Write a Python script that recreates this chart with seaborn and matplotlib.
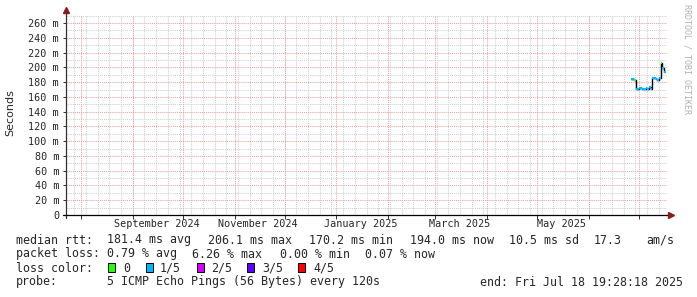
import matplotlib
matplotlib.use('Agg')
import numpy as np
import pandas as pd
import matplotlib.pyplot as plt
import matplotlib.dates as mdates
from matplotlib.patches import Rectangle
import seaborn as sns

# median rtt (ms) per day, with loss level index (0 = no loss, 1 = 1/5 ...)
dates = ['2025-06-27', '2025-06-28', '2025-06-29', '2025-06-30', '2025-07-01',
         '2025-07-02', '2025-07-03', '2025-07-04', '2025-07-05', '2025-07-06',
         '2025-07-07', '2025-07-08', '2025-07-09', '2025-07-10', '2025-07-11',
         '2025-07-12', '2025-07-13', '2025-07-14', '2025-07-15', '2025-07-16',
         '2025-07-17']
rtt_ms = [184.5, 184.0, 183.5, 171.0, 170.5,
          172.0, 171.5, 170.2, 171.0, 172.5,
          170.8, 173.5, 171.0, 186.0, 185.5,
          184.0, 183.0, 185.0, 206.1, 199.0,
          194.0]
loss_level = [1, 1, 0, 1, 1,
              1, 1, 1, 1, 1,
              1, 1, 1, 1, 1,
              1, 1, 1, 0, 1,
              1]

loss_labels = ['0', '1/5', '2/5', '3/5', '4/5']
loss_colors = ['#26ff00', '#00b8ff', '#d400ff', '#5e00ff', '#ff0000']

y_ticks = [0, 20, 40, 60, 80, 100, 120, 140, 160, 180, 200, 220, 240, 260]
month_labels = ['September 2024', 'November 2024', 'January 2025', 'March 2025', 'May 2025']
month_label_starts = ['2024-09-01', '2024-11-01', '2025-01-01', '2025-03-01', '2025-05-01']

end_time = pd.Timestamp('2025-07-18 19:28:18')
start_time = end_time - pd.Timedelta(days=360)

df = pd.DataFrame({'time': pd.to_datetime(dates), 'rtt': rtt_ms, 'loss': loss_level})

sns.set_style('white')
plt.rcParams['font.family'] = ['DejaVu Sans Mono']

W, H = 697, 297
fig = plt.figure(figsize=(W / 100, H / 100), dpi=100)
ax = fig.add_axes([66 / W, 82 / H, 601 / W, 200 / H])
ymax = 271

# grid: minor weekly / 10 m, major monthly / 20 m
minor_c = '#cfcfcf'
major_c = '#e6a3a3'
dot = (0, (1, 1))
weeks = pd.date_range(start_time, end_time, freq='W-SUN')
months = pd.date_range(start_time, end_time, freq='MS')
ax.vlines(weeks, 0, ymax, colors=minor_c, lw=0.75, linestyles=dot, zorder=1)
ax.hlines(np.arange(10, ymax, 20), start_time, end_time, colors=minor_c, lw=0.75, linestyles=dot, zorder=1)
ax.vlines(months, 0, ymax, colors=major_c, lw=0.75, linestyles=dot, zorder=2)
ax.hlines(np.arange(20, ymax, 20), start_time, end_time, colors=major_c, lw=0.75, linestyles=dot, zorder=2)

# median rtt as steps, coloured by loss
sns.lineplot(data=df, x='time', y='rtt', drawstyle='steps-post', color='black',
             lw=1, ax=ax, zorder=3)
ax.hlines(df['rtt'], df['time'], df['time'] + pd.Timedelta(days=1),
          colors=[loss_colors[i] for i in df['loss']], lw=1.6, zorder=4)

ax.set_xlim(start_time, end_time)
ax.set_ylim(0, ymax)
for s in ax.spines.values():
    s.set_visible(False)
ax.set_xlabel('')
ax.set_ylabel('')

ax.set_yticks(y_ticks)
ax.set_yticklabels(['0' if v == 0 else f'{v} m' for v in y_ticks])
ax.tick_params(axis='y', length=2, width=0.7, pad=3, labelsize=7.3, color='#303030', left=True)

ax.set_xticks(mdates.date2num(months))
ax.set_xticklabels([])
mids = []
for m in month_label_starts:
    s = pd.Timestamp(m)
    e = s + pd.offsets.MonthBegin(1)
    mids.append(s + (e - s) / 2)
ax.set_xticks(mdates.date2num(mids), minor=True)
ax.set_xticklabels(month_labels, minor=True)
ax.tick_params(axis='x', which='major', length=3, width=0.7, color='#303030', bottom=True)
ax.tick_params(axis='x', which='minor', length=0, pad=3, labelsize=7.3, bottom=True)

# axis lines with arrows
ax.plot([0, 0], [-3 / 200, 1 + 3 / 200], transform=ax.transAxes, color='#303030', lw=0.9, clip_on=False, zorder=5)
ax.plot([-3 / 601, 1 + 2 / 601], [0, 0], transform=ax.transAxes, color='black', lw=0.9, clip_on=False, zorder=5)
ax.plot([0], [1 + 5 / 200], marker='^', ms=5, color='#8b1a1a', transform=ax.transAxes, clip_on=False, zorder=6)
ax.plot([1 + 4 / 601], [0], marker='>', ms=5, color='#8b1a1a', transform=ax.transAxes, clip_on=False, zorder=6)

fig.text(10 / W, 1 - 113 / H, 'Seconds', rotation=90, ha='center', va='center',
         family='DejaVu Sans', fontsize=8)
fig.text(687 / W, 1 - 4 / H, 'RRDTOOL / TOBI OETIKER', rotation=-90, ha='center', va='top',
         fontsize=6, color='#b0b0b0')

def put(x, y, s):
    fig.text(x / W, 1 - y / H, s, ha='left', va='center', fontsize=8.4)

put(16, 240, 'median rtt:')
for x, s in zip([107, 208, 309, 410, 509, 594, 646],
                ['181.4 ms avg', '206.1 ms max', '170.2 ms min', '194.0 ms now', '10.5 ms sd', '17.3', 'am/s']):
    put(x, 240, s)
put(16, 254, 'packet loss:')
for x, s in zip([107, 192, 280, 365], ['0.79 % avg', '6.26 % max', '0.00 % min', '0.07 % now']):
    put(x, 254, s)
put(16, 268, 'loss color:')
for bx, tx, lab, c in zip([108, 146, 197, 247, 298], [123, 160, 211, 262, 313], loss_labels, loss_colors):
    fig.add_artist(Rectangle((bx / W, 1 - 272 / H), 7 / W, 8.7 / H, facecolor=c, edgecolor='black',
                             lw=0.7, transform=fig.transFigure))
    put(tx, 268, lab)
put(16, 282, 'probe:')
put(107, 282, '5 ICMP Echo Pings (56 Bytes) every 120s')
put(480, 282, 'end: Fri Jul 18 19:28:18 2025')

fig.savefig('out.png', dpi=100)
